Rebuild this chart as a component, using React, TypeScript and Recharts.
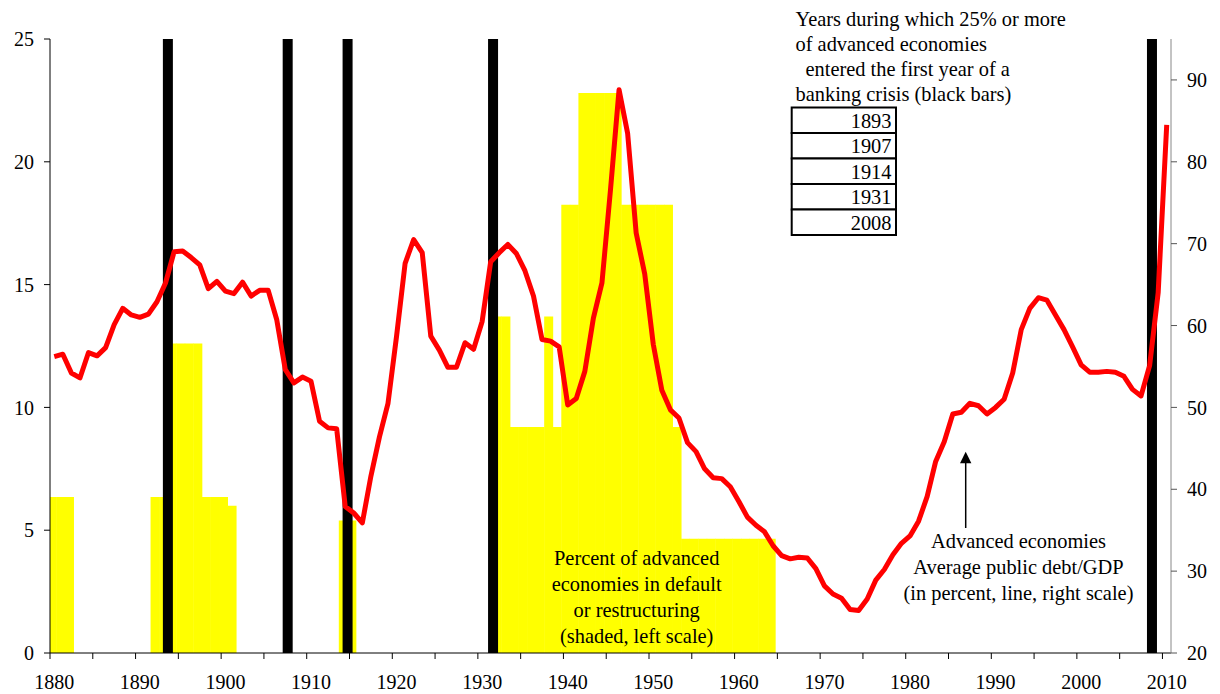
import { Bar, ComposedChart, Line, XAxis, YAxis } from 'recharts';

const FIRST_YEAR = 1880;

// Average public debt/GDP of advanced economies, percent (right scale), 1880-2010
const DEBT_GDP = [
    56.2, 56.5, 54.2, 53.6, 56.7, 56.3, 57.3, 60.1, 62.1, 61.3,
    61.0, 61.4, 62.9, 65.2, 69.0, 69.1, 68.3, 67.4, 64.5, 65.4,
    64.2, 63.9, 65.3, 63.6, 64.3, 64.3, 60.7, 54.6, 53.0, 53.7,
    53.2, 48.3, 47.5, 47.4, 37.9, 37.1, 35.9, 41.6, 46.4, 50.5,
    58.7, 67.6, 70.5, 68.9, 58.7, 57.0, 54.9, 54.9, 57.9, 57.1,
    60.5, 67.8, 68.9, 69.9, 68.8, 66.7, 63.6, 58.3, 58.1, 57.4,
    50.3, 51.1, 54.4, 60.9, 65.2, 76.6, 88.8, 83.5, 71.3, 66.3,
    57.7, 52.1, 49.7, 48.7, 45.7, 44.6, 42.5, 41.4, 41.3, 40.3,
    38.5, 36.6, 35.6, 34.8, 33.1, 31.9, 31.5, 31.7, 31.6, 30.3,
    28.2, 27.2, 26.7, 25.3, 25.2, 26.6, 28.9, 30.2, 32.0, 33.4,
    34.3, 36.1, 39.1, 43.4, 45.8, 49.2, 49.4, 50.5, 50.2, 49.2,
    50.0, 51.0, 54.2, 59.5, 62.1, 63.4, 63.1, 61.3, 59.5, 57.4,
    55.2, 54.3, 54.3, 54.4, 54.3, 53.8, 52.2, 51.4, 55.1, 64.0,
    84.5,
];

// Percent of advanced economies in default or restructuring (left scale), 1880-2010
const DEFAULT_SHARE = [
    6.35, 6.35, 6.35, 0, 0, 0, 0, 0, 0, 0,
    0, 0, 6.35, 6.35, 12.6, 12.6, 12.6, 12.6, 6.35, 6.35,
    6.35, 6.0, 0, 0, 0, 0, 0, 0, 0, 0,
    0, 0, 0, 0, 5.4, 5.4, 0, 0, 0, 0,
    0, 0, 0, 0, 0, 0, 0, 0, 0, 0,
    0, 0, 13.7, 13.7, 9.2, 9.2, 9.2, 9.2, 13.7, 9.2,
    18.25, 18.25, 22.8, 22.8, 22.8, 22.8, 22.8, 18.25, 18.25, 18.25,
    18.25, 18.25, 18.25, 9.2, 4.65, 4.65, 4.65, 4.65, 4.65, 4.65,
    4.65, 4.65, 4.65, 4.65, 4.65, 0, 0, 0, 0, 0,
    0, 0, 0, 0, 0, 0, 0, 0, 0, 0,
    0, 0, 0, 0, 0, 0, 0, 0, 0, 0,
    0, 0, 0, 0, 0, 0, 0, 0, 0, 0,
    0, 0, 0, 0, 0, 0, 0, 0, 0, 0,
    0,
];

// first year of a banking crisis in 25% or more of advanced economies
const CRISIS_YEARS = [1893, 1907, 1914, 1931, 2008];
const CRISIS_LEVEL = 25;

const X_TICKS = [
    1880, 1885, 1890, 1895, 1900, 1905, 1910, 1915, 1920, 1925, 1930, 1935, 1940,
    1945, 1950, 1955, 1960, 1965, 1970, 1975, 1980, 1985, 1990, 1995, 2000, 2005, 2010,
];
const LEFT_TICKS = [0, 5, 10, 15, 20, 25];
const RIGHT_TICKS = [20, 30, 40, 50, 60, 70, 80, 90];

const NOTE_CRISIS = [
    'Years during which 25% or more',
    'of advanced economies',
    'entered the first year of a',
    'banking crisis (black bars)',
];
const NOTE_DEFAULT = [
    'Percent of advanced',
    'economies in default',
    'or restructuring',
    '(shaded, left scale)',
];
const NOTE_DEBT = [
    'Advanced economies',
    'Average public debt/GDP',
    '(in percent, line, right scale)',
];

const data = DEBT_GDP.map((debt, i) => {
    const year = FIRST_YEAR + i;
    return {
        year,
        debt,
        dflt: DEFAULT_SHARE[i],
        crisis: CRISIS_YEARS.includes(year) ? CRISIS_LEVEL : 0,
    };
});

const SERIF = '"Liberation Serif", "Times New Roman", serif';
const W = 1204;
const H = 686;
const LEFT_W = 42;
const RIGHT_W = 41;
const HALF_BAND = (W - LEFT_W - RIGHT_W) / data.length / 2;
const CRISIS_BAR_W = 10;

function YearTick(props: any) {
    const { x, y, payload } = props;
    const edge = x - HALF_BAND;
    return (
        <g>
            <line x1={edge} x2={edge} y1={y} y2={y + 6} stroke="#000" />
            {payload.value % 10 === 0 && (
                <text x={x} y={y + 36} textAnchor="middle" fontSize={20} fontFamily={SERIF} fill="#000">
                    {payload.value}
                </text>
            )}
        </g>
    );
}

// crisis bars are drawn a little wider than one year band
function CrisisBar(props: any) {
    const { x, y, width, height } = props;
    if (!height) return null;
    const cx = x + width / 2;
    return <rect x={cx - CRISIS_BAR_W / 2} y={y} width={CRISIS_BAR_W} height={height} fill="#000" />;
}

export default function App() {
    const tickFont = { fill: '#000', fontSize: 20, fontFamily: SERIF };
    return (
        <div style={{ position: 'relative', width: W, height: H, fontFamily: SERIF }}>
            <style>{'html,body{overflow:hidden}'}</style>
            <ComposedChart
                width={W}
                height={H}
                data={data}
                margin={{ top: 31, right: 0, bottom: 5, left: 0 }}
                barCategoryGap={0}
                barGap={0}
            >
                <XAxis
                    xAxisId="main"
                    type="number"
                    dataKey="year"
                    domain={[1879.5, 2010.5]}
                    allowDataOverflow
                    ticks={X_TICKS}
                    interval={0}
                    tick={<YearTick />}
                    tickLine={false}
                    tickSize={0}
                    tickMargin={0}
                    axisLine={{ stroke: '#000' }}
                    height={36}
                />
                <XAxis xAxisId="dflt" type="number" dataKey="year" domain={[1879.75, 2010.75]} allowDataOverflow hide height={0} />
                <XAxis xAxisId="crisis" type="number" dataKey="year" domain={[1879.25, 2010.25]} allowDataOverflow hide height={0} />
                <YAxis
                    yAxisId="left"
                    domain={[0, 25]}
                    ticks={LEFT_TICKS}
                    interval={0}
                    width={LEFT_W}
                    tick={tickFont}
                    tickSize={6}
                    tickMargin={10}
                    tickLine={{ stroke: '#000' }}
                    axisLine={{ stroke: '#000' }}
                />
                <YAxis
                    yAxisId="right"
                    orientation="right"
                    domain={[20, 95]}
                    allowDataOverflow
                    ticks={RIGHT_TICKS}
                    interval={0}
                    width={RIGHT_W}
                    tick={tickFont}
                    tickSize={6}
                    tickMargin={10}
                    tickLine={{ stroke: '#555' }}
                    axisLine={{ stroke: '#888' }}
                />
                <Bar xAxisId="dflt" yAxisId="left" dataKey="dflt" fill="#FFFF00" isAnimationActive={false} />
                <Bar
                    xAxisId="crisis"
                    yAxisId="left"
                    dataKey="crisis"
                    fill="#000"
                    shape={<CrisisBar />}
                    isAnimationActive={false}
                />
                <Line
                    xAxisId="main"
                    yAxisId="right"
                    type="linear"
                    dataKey="debt"
                    stroke="#FF0000"
                    strokeWidth={5}
                    strokeLinejoin="round"
                    dot={false}
                    activeDot={false}
                    isAnimationActive={false}
                />
            </ComposedChart>
            <svg
                width={W}
                height={H}
                style={{ position: 'absolute', left: 0, top: 0, pointerEvents: 'none' }}
                fontFamily={SERIF}
                fontSize={20.4}
                fill="#000"
            >
                {NOTE_CRISIS.map((t, i) => (
                    <text key={t} x={i === 2 ? 797.5 : 787.5} y={18 + i * 24.9}>
                        {t}
                    </text>
                ))}
                {CRISIS_YEARS.map((yr, i) => (
                    <g key={yr}>
                        <rect x={783.7} y={99.5 + i * 25.5} width={104.3} height={25.5} fill="#fff" stroke="#000" strokeWidth={2} />
                        <text x={883.5} y={119.8 + i * 25.5} textAnchor="end">
                            {yr}
                        </text>
                    </g>
                ))}
                {NOTE_DEFAULT.map((t, i) => (
                    <text key={t} x={628.7} y={557 + i * 25.9} textAnchor="middle">
                        {t}
                    </text>
                ))}
                {NOTE_DEBT.map((t, i) => (
                    <text key={t} x={1010.5} y={539.7 + i * 26.1} textAnchor="middle">
                        {t}
                    </text>
                ))}
                <line x1={957.7} x2={957.7} y1={520} y2={452} stroke="#000" strokeWidth={1.5} />
                <path d="M957.7 443.7 L963.4 455.3 L952 455.3 Z" fill="#000" />
            </svg>
        </div>
    );
}
